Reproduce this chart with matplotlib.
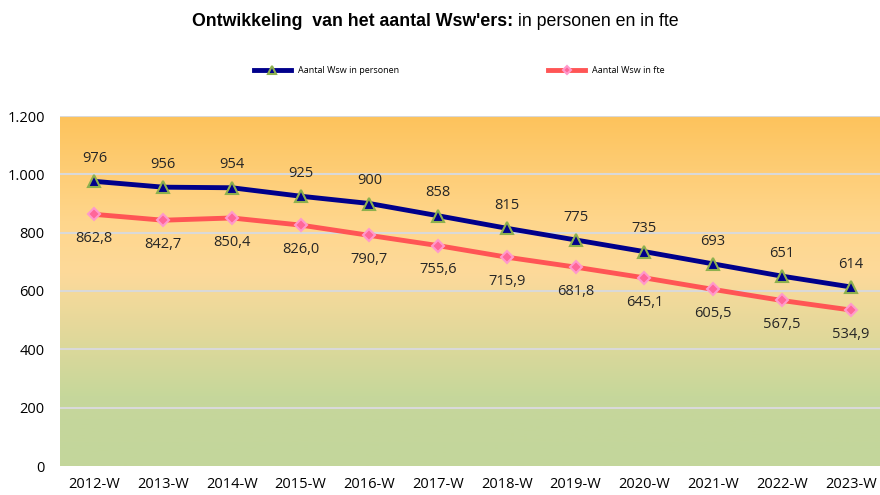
import numpy as np
import matplotlib.pyplot as plt
from matplotlib.colors import LinearSegmentedColormap

years = ['2012-W', '2013-W', '2014-W', '2015-W', '2016-W', '2017-W',
         '2018-W', '2019-W', '2020-W', '2021-W', '2022-W', '2023-W']
personen = [976, 956, 954, 925, 900, 858, 815, 775, 735, 693, 651, 614]
fte = [862.8, 842.7, 850.4, 826.0, 790.7, 755.6, 715.9, 681.8, 645.1, 605.5, 567.5, 534.9]

plt.rcParams['font.family'] = ['Open Sans', 'DejaVu Sans']

fig = plt.figure(figsize=(8.8, 4.95), dpi=100)
ax = fig.add_axes([60 / 880, 29 / 495, 825 / 880, 350 / 495])

x = np.arange(len(years))

# background gradient (bottom green -> light -> orange top)
cmap = LinearSegmentedColormap.from_list('bg', [(0.0, '#C3D69B'), (0.2, '#C6D79B'),
                                                (0.55, '#FDDA9A'), (0.7, '#FFD68C'),
                                                (1.0, '#FDC35C')])
grad = np.linspace(0, 1, 256).reshape(-1, 1)
ax.imshow(grad, aspect='auto', cmap=cmap, origin='lower',
          extent=[-0.5, len(years) - 0.5, 0, 1200], zorder=0)

ax.set_xlim(-0.5, len(years) - 0.5)
ax.set_ylim(0, 1200)
ax.set_yticks(range(0, 1201, 200))
ax.set_yticklabels(['0', '200', '400', '600', '800', '1.000', '1.200'])
ax.set_xticks(x)
ax.set_xticklabels(years)
ax.tick_params(length=0, labelsize=10.5, pad=8)
ax.tick_params(axis='y', pad=11)
for v in range(200, 1201, 200):
    ax.axhline(v, color='#D9D9D9', lw=1.5, zorder=1)
for s in ax.spines.values():
    s.set_visible(False)

ax.plot(x, personen, color='#00008B', lw=3.5, marker='^', ms=9,
        mfc='#00008B', mec='#8DB04E', mew=1.5, zorder=4, label='Aantal Wsw in personen')
ax.plot(x, fte, color='#FF5555', lw=3.5, marker='D', ms=6.5,
        mfc='#FF6699', mec='#FF99CC', mew=1.5, zorder=3, label='Aantal Wsw in fte')

for xi, v in zip(x, personen):
    ax.annotate(str(v), (xi, v), xytext=(0, 11), textcoords='offset points',
                ha='center', va='bottom', fontsize=10.5, color='#262626')
for xi, v in zip(x, fte):
    ax.annotate(f'{v:.1f}'.replace('.', ','), (xi, v), xytext=(0, -12),
                textcoords='offset points', ha='center', va='top',
                fontsize=10.5, color='#262626')

# title: bold part + regular part, placed side by side
t1 = fig.text(192 / 880, 0.957, "Ontwikkeling  van het aantal Wsw'ers:", ha='left', va='center',
              fontsize=12.8, fontweight='bold', family='Liberation Sans')
fig.canvas.draw()
bb = t1.get_window_extent()
fig.text((bb.x1 + 5) / 880, 0.957, "in personen en in fte", ha='left', va='center',
         fontsize=12.8, family='Liberation Sans')

fig.legend(loc='center', bbox_to_anchor=(0.522, 0.857), ncol=2, frameon=False,
           fontsize=6.5, columnspacing=16.5, handlelength=4.1, markerscale=0.6)

fig.savefig('out.png', dpi=100)
